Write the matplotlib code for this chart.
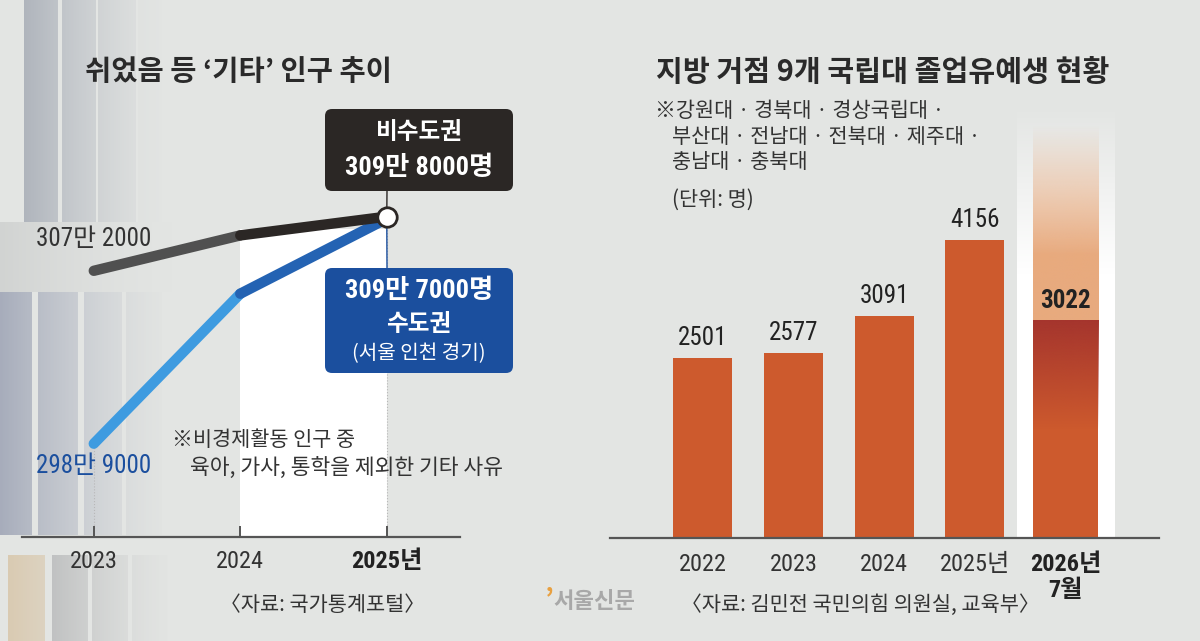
import matplotlib.pyplot as plt
import numpy as np
from matplotlib.patches import FancyBboxPatch, Rectangle
from matplotlib.transforms import IdentityTransform
from matplotlib.colors import to_rgb

KR = ["Noto Sans CJK KR", "DejaVu Sans"]
NUM = ["Roboto Condensed", "Noto Sans CJK KR", "DejaVu Sans"]

# left chart: '기타' population, 만 명
years = [2023, 2024, 2025]
year_labels = ["2023", "2024", "2025년"]
non_capital = [307.2, 308.9, 309.8]
capital = [298.9, 306.1, 309.7]

# right chart: graduation deferrals, 명
bar_labels = ["2022", "2023", "2024", "2025년", "2026년\n7월"]
deferred = [2501, 2577, 3091, 4156, 3022]

BG = "#e3e5e3"
DARK = "#2b2725"
BLUE = "#1b4f9e"
ORANGE = "#cd5a2d"
W, H = 1200, 641

fig = plt.figure(figsize=(12, 6.41), dpi=100, facecolor=BG)


def ftext(x, y, s, **kw):
    # x, y in picture pixels (top-left origin)
    kw.setdefault("family", KR)
    kw.setdefault("color", "#333333")
    fig.text(x / W, 1 - y / H, s, **kw)


def gradient(ax, extent, color, a_bottom, a_top, ramp, zorder):
    # vertical alpha ramp; ramp = (y where fade starts, y where fully faded)
    y0, y1 = extent[2], extent[3]
    ys = np.linspace(y1, y0, 200)
    t = np.clip((ys - ramp[0]) / (ramp[1] - ramp[0]), 0, 1)
    alpha = a_bottom + (a_top - a_bottom) * t
    img = np.zeros((200, 1, 4))
    img[:, 0, :3] = to_rgb(color)
    img[:, 0, 3] = alpha
    ax.imshow(img, extent=extent, aspect="auto", zorder=zorder, interpolation="bilinear")


# faded bookshelf photo behind the left chart (rough decoration)
bg = fig.add_axes([0, 0, 1, 1], zorder=-5)
bg.set_xlim(0, W)
bg.set_ylim(H, 0)
bg.axis("off")
shelf = np.zeros((H, 200, 4))
books = [
    (24, 58, 0, 222, "#3a4664"), (62, 96, 0, 222, "#3a4664"), (98, 136, 0, 222, "#404a66"),
    (138, 162, 0, 222, "#9a9ea4"), (0, 200, 222, 292, "#b4b6b6"),
    (0, 32, 292, 535, "#44507a"), (38, 78, 292, 535, "#44507a"), (84, 122, 292, 535, "#48547c"),
    (126, 162, 292, 535, "#4a567c"),
    (8, 45, 555, 641, "#c89a58"), (52, 88, 555, 641, "#4a4a52"), (92, 128, 555, 641, "#4a4a52"),
    (132, 168, 555, 641, "#4a4a52"),
]
for x0, x1, y0, y1, c in books:
    shelf[y0:y1, x0:x1, :3] = to_rgb(c)
    shelf[y0:y1, x0:x1, 3] = 1
fade = np.clip(1 - np.arange(200) / 180, 0, 1) ** 1.5 * 0.38
shelf[:, :, 3] *= fade[None, :]
bg.imshow(shelf, extent=[0, 200, H, 0], aspect="auto", interpolation="bilinear")

# ---------------- left: line chart ----------------
ax1 = fig.add_axes([22 / W, (H - 537) / H, 438 / W, 437 / H])
ax1.set_facecolor("none")
for s in ["top", "left", "right"]:
    ax1.spines[s].set_visible(False)
ax1.spines["bottom"].set_color("#555555")
ax1.spines["bottom"].set_linewidth(1.6)

ax1.add_patch(Rectangle((2024, 294.0), 1, 309.22 - 294.0, color="white", zorder=0, lw=0))
for yr, v in [(2023, capital[0]), (2025, capital[2])]:
    ax1.plot([yr, yr], [294.42, v], color="#b8b8b8", lw=0.8, ls=":", zorder=1)

ax1.plot(years[:2], capital[:2], color="#3e9be0", lw=7.5, solid_capstyle="round", zorder=2)
ax1.plot(years[1:], capital[1:], color="#2463b3", lw=7.5, solid_capstyle="round", zorder=2)
ax1.plot(years[:2], non_capital[:2], color="#505050", lw=7.5, solid_capstyle="round", zorder=3)
ax1.plot(years[1:], non_capital[1:], color=DARK, lw=7.5, solid_capstyle="round", zorder=3)
ax1.plot(years[2], non_capital[2], marker="o", ms=14, mfc="white", mec=DARK, mew=2, zorder=5)

ax1.annotate("307만 2000", (years[0], non_capital[0]), xytext=(0, 23), textcoords="offset points",
             ha="center", va="center", fontsize=18, family=NUM, color="#333333")
ax1.annotate("298만 9000", (years[0], capital[0]), xytext=(0, -16), textcoords="offset points",
             ha="center", va="center", fontsize=18, family=NUM, color=BLUE)

# connectors to callout boxes
ax1.annotate("", (years[2], non_capital[2]), xytext=(387, H - 191), textcoords="figure pixels",
             arrowprops=dict(arrowstyle="-", color=DARK, lw=1, shrinkA=0, shrinkB=0), zorder=4)
ax1.annotate("", (years[2], non_capital[2]), xytext=(387, H - 268), textcoords="figure pixels",
             arrowprops=dict(arrowstyle="-", color=BLUE, lw=1, shrinkA=0, shrinkB=0), zorder=1)

ax1.set_xlim(2022.51, 2025.50)
ax1.set_ylim(294.42, 315.4)
ax1.set_yticks([])
ax1.set_xticks(years)
ax1.set_xticklabels(year_labels, family=NUM, fontsize=17.5, color="#333333")
ax1.get_xticklabels()[-1].set_fontweight("bold")
ax1.get_xticklabels()[-1].set_color("#222222")
ax1.tick_params(axis="x", direction="in", length=8, width=1.4, color="#555555", pad=9)

fig.patches.append(FancyBboxPatch((325, H - 191), 188, 82, boxstyle="round,pad=0,rounding_size=7",
                                  transform=IdentityTransform(), fc=DARK, ec="none", figure=fig))
fig.patches.append(FancyBboxPatch((325, H - 373), 188, 105, boxstyle="round,pad=0,rounding_size=7",
                                  transform=IdentityTransform(), fc=BLUE, ec="none", figure=fig))
ftext(419, 132, "비수도권", ha="center", va="center", fontsize=17, weight="bold", color="white")
ftext(419, 168, "309만 8000명", ha="center", va="center", fontsize=19, weight="bold",
      color="white", family=NUM)
ftext(419, 291, "309만 7000명", ha="center", va="center", fontsize=19, weight="bold",
      color="white", family=NUM)
ftext(419, 324, "수도권", ha="center", va="center", fontsize=17, weight="bold", color="white")
ftext(419, 354, "(서울 인천 경기)", ha="center", va="center", fontsize=14.5, color="white")

ftext(85, 72, "쉬었음 등 ‘기타’ 인구 추이", ha="left", va="center", fontsize=20.5,
      weight="bold", color="#2a2a2a")
ftext(172, 440, "※비경제활동 인구 중", ha="left", va="center", fontsize=15)
ftext(190, 468, "육아, 가사, 통학을 제외한 기타 사유", ha="left", va="center", fontsize=15.5)
ftext(323, 605, "〈자료: 국가통계포털〉", ha="center", va="center", fontsize=15)

# ---------------- right: bar chart ----------------
ax2 = fig.add_axes([610 / W, (H - 537.7) / H, 548.7 / W, 437.7 / H])
ax2.set_facecolor("none")
for s in ["top", "left", "right"]:
    ax2.spines[s].set_visible(False)
ax2.spines["bottom"].set_color("#555555")
ax2.spines["bottom"].set_linewidth(1.6)

x = np.arange(len(deferred))
widths = [0.65] * 4 + [0.717]
last = x[-1]
hw = widths[-1] / 2

gradient(ax2, [3.465, 4.545, 0, 6050], "white", 1, 0, (3700, 6050), 0)
gradient(ax2, [last - hw, last + hw, deferred[-1], 5750], "#e8aa7e", 1, 0, (3950, 5750), 1)

ax2.bar(x, deferred, width=widths, color=ORANGE, zorder=2)
gradient(ax2, [last - hw, last + hw, 1500, deferred[-1]], "#a5352d", 0, 1, (1500, deferred[-1]), 3)

for i, v in enumerate(deferred):
    bold = i == len(deferred) - 1
    ax2.annotate(f"{v}", (x[i], v), xytext=(0, 14.5), textcoords="offset points", ha="center",
                 va="center", fontsize=18, family=NUM, color="#222222",
                 weight="bold" if bold else "normal", zorder=5)

ax2.set_xlim(-1.0226, 5.027)
ax2.set_ylim(0, 6104)
ax2.set_yticks([])
ax2.set_xticks(x)
ax2.set_xticklabels(bar_labels, family=NUM, fontsize=17.5, color="#333333", linespacing=1.15)
ax2.get_xticklabels()[-1].set_fontweight("bold")
ax2.get_xticklabels()[-1].set_color("#222222")
ax2.tick_params(axis="x", length=0, pad=11)

ftext(656, 72, "지방 거점 9개 국립대 졸업유예생 현황", ha="left", va="center", fontsize=21,
      weight="bold", color="#2a2a2a")
ftext(655, 111, "※강원대 · 경북대 · 경상국립대 ·", ha="left", va="center", fontsize=15)
ftext(672, 137, "부산대 · 전남대 · 전북대 · 제주대 ·", ha="left", va="center", fontsize=15)
ftext(672, 162, "충남대 · 충북대", ha="left", va="center", fontsize=15)
ftext(672, 200, "(단위: 명)", ha="left", va="center", fontsize=15)
ftext(860, 605, "〈자료: 김민전 국민의힘 의원실, 교육부〉", ha="center", va="center", fontsize=15)

ftext(545, 600, "’", ha="left", va="center", fontsize=20, weight="bold", color="#e8a040")
ftext(553, 602, "서울신문", ha="left", va="center", fontsize=16, weight="bold", color="#a8a8a8")

fig.savefig("out.png", dpi=100, facecolor=BG)
